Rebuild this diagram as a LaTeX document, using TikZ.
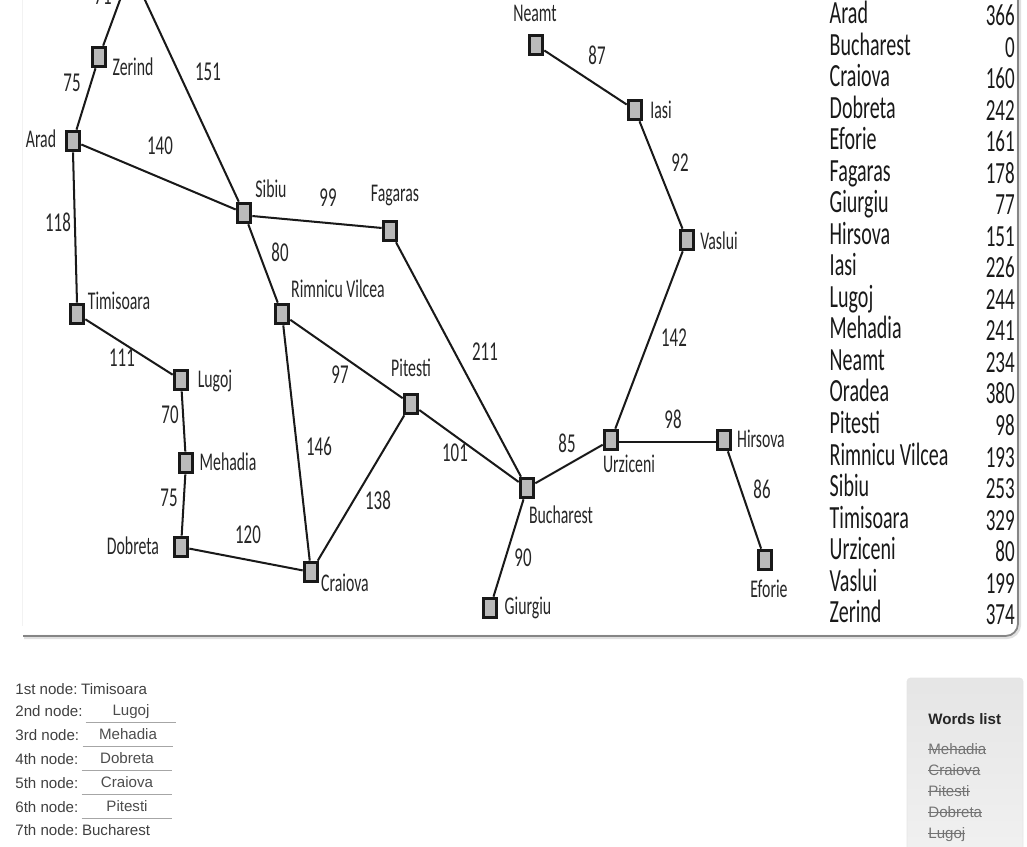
\documentclass[tikz,border=0pt]{standalone}
\usepackage{fontspec}
\setmainfont{Liberation Sans}
\newfontfamily\mapfont[FakeStretch=0.62]{Carlito}
\usetikzlibrary{positioning,arrows.meta}
\newcommand{\struck}[1]{\setbox0=\hbox{#1}\rlap{\rule[0.27em]{\wd0}{0.45pt}}\box0}
\tikzset{
  city/.style={
    draw=black!90,
    fill=black!27,
    line width=1.8pt,
    inner sep=0pt,
    minimum width=0.27cm,
    minimum height=0.39cm
  },
  cityname/.style={font=\mapfont\fontsize{14.5}{15}\selectfont, text=black!85},
  dist/.style={font=\mapfont\fontsize{15.5}{16}\selectfont, text=black!85},
  road/.style={line width=1.15pt, black!90},
  rowname/.style={anchor=base west, font=\mapfont\fontsize{18.4}{19}\selectfont, text=black!90},
  rowval/.style={anchor=base east, font=\mapfont\fontsize{17.5}{18}\selectfont, text=black!90},
  plain/.style={
    anchor=west,
    inner sep=0pt,
    text height=6.4pt,
    text depth=1.8pt,
    font=\fontsize{8.6}{10}\selectfont,
    text=black!75
  },
  answer/.style={
    inner sep=0pt,
    minimum width=1.8cm,
    minimum height=0.44cm,
    text height=6.9pt,
    text depth=1.3pt,
    font=\fontsize{8.6}{10}\selectfont,
    text=black!70
  },
  answerline/.style={line width=0.4pt, black!35},
  done/.style={plain, text=black!55}
}

\begin{document}
\begin{tikzpicture}[x=0.02cm, y=-0.02cm]
  \useasboundingbox (0,0) rectangle (1027,847);
  \clip (0,0) rectangle (1027,847);

  % frame of the map
  \draw[black!5, line width=0.5pt] (22,0) -- (22,626);
  \draw[black!12, line width=2.4pt, rounded corners=7pt] (1019,-10) -- (1019,637) -- (24,637);
  \draw[black!48, line width=1pt, rounded corners=7pt] (1018,-10) -- (1018,636) -- (23,636);

  % cities
  \coordinate (oradea) at (131,-30);
  \node[city] (zerind) at (99,57) {};
  \node[city] (arad) at (73,141) {};
  \node[city] (sibiu) at (244,213) {};
  \node[city] (fagaras) at (390,231) {};
  \node[city] (neamt) at (536,45) {};
  \node[city] (iasi) at (635,110) {};
  \node[city] (vaslui) at (687,240) {};
  \node[city] (timisoara) at (77,314) {};
  \node[city] (rimnicu) at (282,314) {};
  \node[city] (lugoj) at (181,380) {};
  \node[city] (pitesti) at (411,404) {};
  \node[city] (mehadia) at (186,463) {};
  \node[city] (urziceni) at (611,440) {};
  \node[city] (hirsova) at (724,440) {};
  \node[city] (bucharest) at (527,488) {};
  \node[city] (dobreta) at (181,547) {};
  \node[city] (craiova) at (311,572) {};
  \node[city] (eforie) at (765,560) {};
  \node[city] (giurgiu) at (490,608) {};

  % roads
  \draw[road] (oradea) -- (zerind);
  \draw[road] (oradea) -- (sibiu);
  \draw[road] (zerind) -- (arad);
  \draw[road] (arad) -- (sibiu);
  \draw[road] (arad.south) -- (timisoara.north);
  \draw[road] (sibiu.-20) -- (fagaras.160);
  \draw[road] (sibiu) -- (rimnicu);
  \draw[road] (fagaras) -- (bucharest);
  \draw[road] (timisoara) -- (lugoj);
  \draw[road] (lugoj) -- (mehadia);
  \draw[road] (mehadia) -- (dobreta);
  \draw[road] (dobreta) -- (craiova);
  \draw[road] (rimnicu) -- (craiova);
  \draw[road] (rimnicu) -- (pitesti);
  \draw[road] (craiova) -- (pitesti);
  \draw[road] (pitesti) -- (bucharest);
  \draw[road] (bucharest) -- (giurgiu);
  \draw[road] (bucharest) -- (urziceni);
  \draw[road] (urziceni.-15) -- (hirsova.195);
  \draw[road] (hirsova) -- (eforie);
  \draw[road] (urziceni) -- (vaslui);
  \draw[road] (vaslui) -- (iasi);
  \draw[road] (iasi) -- (neamt);

  % city names
  \node[cityname] (zerindname) at (133,67) {Zerind};
  \node[cityname] (aradname) at (41,139) {Arad};
  \node[cityname] (sibiuname) at (271,189) {Sibiu};
  \node[cityname] (fagarasname) at (395,196) {Fagaras};
  \node[cityname] (neamtname) at (535,13) {Neamt};
  \node[cityname] (iasiname) at (661,110) {Iasi};
  \node[cityname] (vasluiname) at (719,241) {Vaslui};
  \node[cityname] (timisoaraname) at (119,301) {Timisoara};
  \node[cityname] (rimnicuname) at (338,289) {Rimnicu Vilcea};
  \node[cityname] (pitestiname) at (411,368) {Pitesti};
  \node[cityname] (lugojname) at (215,381) {Lugoj};
  \node[cityname] (mehadianame) at (228,462) {Mehadia};
  \node[cityname] (dobretaname) at (133,546) {Dobreta};
  \node[cityname] (craiovaname) at (345,583) {Craiova};
  \node[cityname] (urziceniname) at (629,464) {Urziceni};
  \node[cityname] (bucharestname) at (561,515) {Bucharest};
  \node[cityname] (hirsovaname) at (761,439) {Hirsova};
  \node[cityname] (eforiename) at (769,589) {Eforie};
  \node[cityname] (giurgiuname) at (528,608) {Giurgiu};

  % distances
  \node[dist] (d71) at (103,-4) {71};
  \node[dist] (d75a) at (72,83) {75};
  \node[dist] (d151) at (208,72) {151};
  \node[dist] (d140) at (160,146) {140};
  \node[dist] (d118) at (58,222) {118};
  \node[dist] (d99) at (328,198) {99};
  \node[dist] (d80) at (280,252) {80};
  \node[dist] (d87) at (597,55) {87};
  \node[dist] (d92) at (680,163) {92};
  \node[dist] (d211) at (485,352) {211};
  \node[dist] (d142) at (674,338) {142};
  \node[dist] (d111) at (122,358) {111};
  \node[dist] (d97) at (340,375) {97};
  \node[dist] (d70) at (170,415) {70};
  \node[dist] (d75b) at (169,498) {75};
  \node[dist] (d146) at (319,446) {146};
  \node[dist] (d101) at (455,453) {101};
  \node[dist] (d138) at (378,500) {138};
  \node[dist] (d120) at (248,535) {120};
  \node[dist] (d85) at (567,443) {85};
  \node[dist] (d98) at (673,419) {98};
  \node[dist] (d86) at (762,489) {86};
  \node[dist] (d90) at (523,558) {90};

  % straight line distances
  \node[rowname] (rarad) at (823.5,24) {Arad};
  \node[rowval] (varad) at (1021,26) {366};
  \node[rowname] (rbucharest) at (823.5,55.5) {Bucharest};
  \node[rowval] (vbucharest) at (1021,57.5) {0};
  \node[rowname] (rcraiova) at (823.5,87) {Craiova};
  \node[rowval] (vcraiova) at (1021,89) {160};
  \node[rowname] (rdobreta) at (823.5,118.5) {Dobreta};
  \node[rowval] (vdobreta) at (1021,120.5) {242};
  \node[rowname] (reforie) at (823.5,150) {Eforie};
  \node[rowval] (veforie) at (1021,152) {161};
  \node[rowname] (rfagaras) at (823.5,181.5) {Fagaras};
  \node[rowval] (vfagaras) at (1021,183.5) {178};
  \node[rowname] (rgiurgiu) at (823.5,213) {Giurgiu};
  \node[rowval] (vgiurgiu) at (1021,215) {77};
  \node[rowname] (rhirsova) at (823.5,244.5) {Hirsova};
  \node[rowval] (vhirsova) at (1021,246.5) {151};
  \node[rowname] (riasi) at (823.5,276) {Iasi};
  \node[rowval] (viasi) at (1021,278) {226};
  \node[rowname] (rlugoj) at (823.5,307.5) {Lugoj};
  \node[rowval] (vlugoj) at (1021,309.5) {244};
  \node[rowname] (rmehadia) at (823.5,339) {Mehadia};
  \node[rowval] (vmehadia) at (1021,341) {241};
  \node[rowname] (rneamt) at (823.5,370.5) {Neamt};
  \node[rowval] (vneamt) at (1021,372.5) {234};
  \node[rowname] (roradea) at (823.5,402) {Oradea};
  \node[rowval] (voradea) at (1021,404) {380};
  \node[rowname] (rpitesti) at (823.5,433.5) {Pitesti};
  \node[rowval] (vpitesti) at (1021,435.5) {98};
  \node[rowname] (rrimnicu) at (823.5,465) {Rimnicu Vilcea};
  \node[rowval] (vrimnicu) at (1021,467) {193};
  \node[rowname] (rsibiu) at (823.5,496.5) {Sibiu};
  \node[rowval] (vsibiu) at (1021,498.5) {253};
  \node[rowname] (rtimisoara) at (823.5,528) {Timisoara};
  \node[rowval] (vtimisoara) at (1021,530) {329};
  \node[rowname] (rurziceni) at (823.5,559.5) {Urziceni};
  \node[rowval] (vurziceni) at (1021,561.5) {80};
  \node[rowname] (rvaslui) at (823.5,591) {Vaslui};
  \node[rowval] (vvaslui) at (1021,593) {199};
  \node[rowname] (rzerind) at (823.5,622.5) {Zerind};
  \node[rowval] (vzerind) at (1021,624.5) {374};

  % answers
  \node[plain] (first) at (15,690) {1st node:\hspace{-1.1pt} Timisoara};
  \node[plain] (second) at (15,712) {2nd node:};
  \node[answer] (ans2) at (131,711) {Lugoj};
  \node[plain] (third) at (15,736) {3rd node:};
  \node[answer] (ans3) at (128,735) {Mehadia};
  \node[plain] (fourth) at (15,760) {4th node:};
  \node[answer] (ans4) at (127,759) {Dobreta};
  \node[plain] (fifth) at (15,784) {5th node:};
  \node[answer] (ans5) at (127,783) {Craiova};
  \node[plain] (sixth) at (15,808) {6th node:};
  \node[answer] (ans6) at (127,807) {Pitesti};
  \node[plain] (seventh) at (15,831) {7th node:\hspace{-1.1pt} Bucharest};
  \draw[answerline] (ans2.south west) -- (ans2.south east);
  \draw[answerline] (ans3.south west) -- (ans3.south east);
  \draw[answerline] (ans4.south west) -- (ans4.south east);
  \draw[answerline] (ans5.south west) -- (ans5.south east);
  \draw[answerline] (ans6.south west) -- (ans6.south east);

  % words list
  \draw[black!10, top color=black!10, bottom color=black!5, rounded corners=2pt, line width=0.4pt]
    (907,678) rectangle (1023,880);
  \node[plain, font=\bfseries\fontsize{8.6}{10}\selectfont, text=black!85] (wordstitle) at (928,720) {Words list};
  \node[done] (w1) at (928,750) {\struck{Mehadia}};
  \node[done] (w2) at (928,771) {\struck{Craiova}};
  \node[done] (w3) at (928,792) {\struck{Pitesti}};
  \node[done] (w4) at (928,813) {\struck{Dobreta}};
  \node[done] (w5) at (928,834) {\struck{Lugoj}};
\end{tikzpicture}
\end{document}
